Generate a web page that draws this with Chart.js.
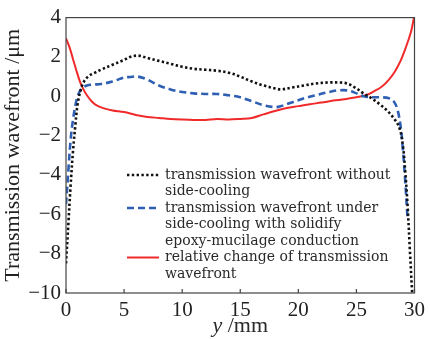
<!DOCTYPE html>
<html>
<head>
<meta charset="utf-8">
<script src="https://cdn.jsdelivr.net/npm/chart.js@4"></script>
<style>
  html, body { margin: 0; padding: 0; background: #fff; }
  #wrap { width: 430px; height: 339px; }
</style>
</head>
<body>
<div id="wrap"><canvas id="wavefrontChart" width="430" height="339"></canvas></div>
<script>
// Data
const blackX = [0, 0.2, 0.4, 0.6, 0.8, 1.0, 1.3, 1.6, 2.0, 2.5, 3.0, 4.0, 5.0, 5.5, 6.2, 7.0, 8.0, 9.0, 10.0, 11.0, 12.0, 13.0, 14.0, 15.0, 16.0, 17.0, 18.0, 18.5, 19.5, 20.5, 21.5, 22.5, 23.5, 24.2, 25.0, 25.6, 26.3, 27.0, 27.6, 28.2, 28.7, 29.0, 29.2, 29.4, 29.6, 29.8];
const blackY = [-8.5, -6.5, -4.5, -2.8, -1.5, -0.4, 0.4, 0.8, 1.05, 1.2, 1.35, 1.6, 1.85, 2.0, 2.07, 1.95, 1.8, 1.65, 1.5, 1.4, 1.35, 1.3, 1.2, 1.0, 0.75, 0.55, 0.4, 0.35, 0.45, 0.55, 0.65, 0.7, 0.7, 0.65, 0.4, 0.15, -0.1, -0.4, -0.7, -1.1, -1.6, -2.5, -3.8, -5.5, -7.8, -10];

const blueX = [0, 0.2, 0.4, 0.6, 0.8, 1.0, 1.3, 1.8, 2.4, 3.0, 4.0, 5.0, 5.5, 6.2, 7.0, 8.0, 9.0, 10.0, 11.0, 12.0, 13.0, 14.0, 15.0, 16.0, 17.0, 18.0, 18.5, 19.5, 20.5, 21.5, 22.5, 23.4, 24.2, 24.8, 25.6, 26.5, 27.2, 27.8, 28.2, 28.5, 28.8, 29.0, 29.2, 29.4];
const blueY = [-5.5, -3.8, -2.2, -1.2, -0.5, 0.0, 0.35, 0.55, 0.6, 0.62, 0.75, 0.95, 0.98, 1.0, 0.85, 0.55, 0.35, 0.22, 0.15, 0.12, 0.12, 0.05, -0.05, -0.25, -0.45, -0.55, -0.5, -0.3, -0.1, 0.05, 0.2, 0.3, 0.3, 0.2, 0.0, -0.05, -0.05, -0.1, -0.25, -0.6, -1.5, -2.7, -4.3, -6.2];

const redX = [0, 0.3, 0.6, 0.9, 1.2, 1.5, 1.8, 2.2, 2.6, 3.2, 4.0, 5.0, 6.0, 7.0, 8.0, 9.0, 10.0, 11.0, 12.0, 13.0, 14.0, 15.0, 16.0, 17.0, 18.0, 19.0, 20.0, 21.0, 22.0, 23.0, 24.0, 25.0, 25.8, 26.5, 27.2, 27.8, 28.3, 28.8, 29.2, 29.5, 29.75, 29.95];
const redY = [2.95, 2.5, 1.9, 1.3, 0.75, 0.35, 0.05, -0.25, -0.45, -0.6, -0.72, -0.8, -0.95, -1.05, -1.1, -1.15, -1.18, -1.2, -1.2, -1.15, -1.18, -1.15, -1.1, -0.92, -0.75, -0.6, -0.5, -0.4, -0.32, -0.22, -0.15, -0.05, 0.05, 0.25, 0.5, 0.85, 1.25, 1.8, 2.4, 2.9, 3.4, 4.0];

const legendLabels = [
    ['transmission wavefront without', 'side-cooling'],
    ['transmission wavefront under', 'side-cooling with solidify', 'epoxy-mucilage conduction'],
    ['relative change of transmission', 'wavefront']
];

const xTicks = [0, 5, 10, 15, 20, 25, 30];
const yTicks = [4, 2, 0, -2, -4, -6, -8, -10];

const serif = '"Liberation Serif", "DejaVu Serif", serif';
const legendFont = '14px "DejaVu Serif", serif';

function toPoints(xs, ys) {
    return xs.map((x, i) => ({ x: x, y: ys[i] }));
}

// Legend, frame, inward ticks and x title drawn by hand
const decorations = {
    id: 'decorations',
    afterDraw(chart) {
        const ctx = chart.ctx;
        const area = chart.chartArea;
        const xs = chart.scales.x;
        ctx.save();

        // frame
        ctx.strokeStyle = '#444';
        ctx.lineWidth = 1.2;
        ctx.strokeRect(area.left, area.top, area.right - area.left, area.bottom - area.top);

        // inward tick marks on the bottom axis
        ctx.beginPath();
        xTicks.forEach(v => {
            const px = xs.getPixelForValue(v);
            ctx.moveTo(px, area.bottom);
            ctx.lineTo(px, area.bottom - 4);
        });
        ctx.stroke();

        // legend
        ctx.font = legendFont;
        ctx.fillStyle = '#2a2a2a';
        ctx.textBaseline = 'middle';
        const lineH = 16.5;
        let y = 175;
        chart.data.datasets.forEach((ds, i) => {
            ctx.beginPath();
            ctx.strokeStyle = ds.borderColor;
            ctx.lineWidth = ds.borderWidth;
            ctx.setLineDash(ds.borderDash || []);
            ctx.moveTo(127, y);
            ctx.lineTo(159, y);
            ctx.stroke();
            ctx.setLineDash([]);
            legendLabels[i].forEach((t, j) => {
                ctx.fillText(t, 165, y + j * lineH);
            });
            y += legendLabels[i].length * lineH;
        });

        // x title: italic y + " /mm"
        ctx.textBaseline = 'alphabetic';
        ctx.font = '22px ' + serif;
        const w2 = ctx.measureText(' /mm').width;
        ctx.font = 'italic 22px ' + serif;
        const w1 = ctx.measureText('y').width;
        const cx = (area.left + area.right) / 2;
        const startX = cx - (w1 + w2) / 2;
        ctx.fillText('y', startX, 332);
        ctx.font = '22px ' + serif;
        ctx.fillText(' /mm', startX + w1, 332);

        ctx.restore();
    }
};

const ctx = document.getElementById('wavefrontChart').getContext('2d');

const myChart = new Chart(ctx, {
    type: 'line',
    data: {
        datasets: [
            {
                label: legendLabels[0].join(' '),
                data: toPoints(blackX, blackY),
                borderColor: '#111',
                borderWidth: 2.6,
                borderDash: [2.4, 2.4],
                pointRadius: 0,
                tension: 0.35,
                fill: false
            },
            {
                label: legendLabels[1].join(' '),
                data: toPoints(blueX, blueY),
                borderColor: '#2f5fb3',
                borderWidth: 2.6,
                borderDash: [7, 4],
                pointRadius: 0,
                tension: 0.35,
                fill: false
            },
            {
                label: legendLabels[2].join(' '),
                data: toPoints(redX, redY),
                borderColor: '#f02a2a',
                borderWidth: 2,
                pointRadius: 0,
                tension: 0.35,
                fill: false
            }
        ]
    },
    options: {
        responsive: false,
        animation: false,
        layout: { padding: { top: 17, right: 13, left: 0, bottom: 0 } },
        plugins: {
            legend: { display: false },
            tooltip: { enabled: false }
        },
        scales: {
            x: {
                type: 'linear',
                min: 0,
                max: 30,
                afterBuildTicks: axis => { axis.ticks = xTicks.map(v => ({ value: v })); },
                afterFit: axis => { axis.height = 46; },
                grid: { display: false, drawTicks: false },
                border: { display: false },
                ticks: {
                    color: '#222',
                    padding: 5,
                    font: { family: serif, size: 21 }
                }
            },
            y: {
                min: -10,
                max: 4,
                afterBuildTicks: axis => { axis.ticks = yTicks.map(v => ({ value: v })); },
                afterFit: axis => { axis.width = 66; },
                grid: { display: false, drawTicks: false },
                border: { display: false },
                ticks: {
                    color: '#222',
                    padding: 5,
                    font: { family: serif, size: 21 },
                    callback: v => String(v).replace('-', '\u2212')
                },
                title: {
                    display: true,
                    text: 'Transmission wavefront /\u03bcm',
                    color: '#222',
                    padding: { top: 0, bottom: 3 },
                    font: { family: serif, size: 22 }
                }
            }
        }
    },
    plugins: [decorations]
});
</script>
</body>
</html>
